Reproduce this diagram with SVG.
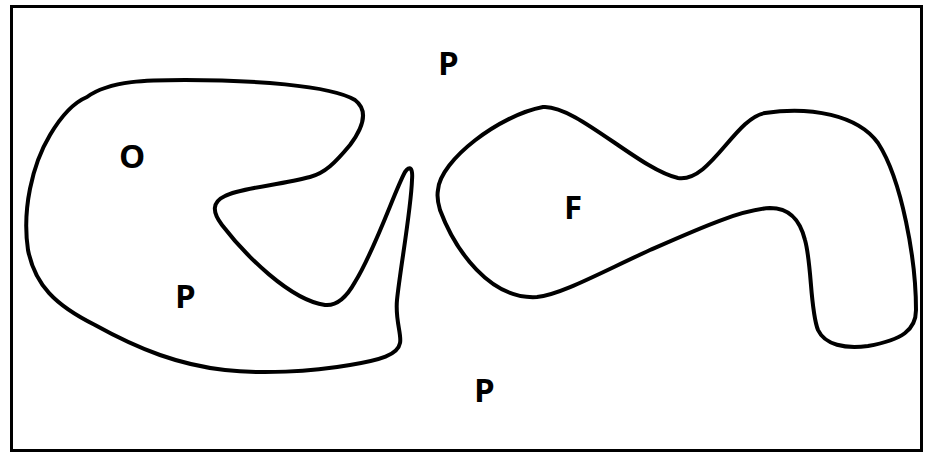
<svg xmlns="http://www.w3.org/2000/svg" width="928" height="453" viewBox="0 0 928 453">
<style>
.shape{fill:none;stroke:#000;stroke-width:4;stroke-linejoin:round}
.lbl{font-family:"Open Sans","Liberation Sans",sans-serif;font-weight:bold;font-size:33px;fill:#000}
</style>
<rect x="0" y="0" width="928" height="453" fill="#fff"/>
<rect x="11.5" y="6.5" width="910" height="444" fill="none" stroke="#000" stroke-width="3"/>
<g id="region-left">
<path class="shape" d="M 87,97 C 110,80 150,80 185,80 C 250,80 330,85 355,100 C 368,110 365,125 350,145 C 335,163 325,173 310,177 C 280,185 240,188 225,196 C 212,202 212,212 222,225 C 245,255 290,300 325,305 C 335,306 345,300 355,282 C 375,250 395,190 405,172 C 410,165 413,168 412,180 C 411,210 400,270 397,300 C 395,320 402,335 400,343 C 398,355 380,360 350,365 C 310,372 260,374 225,370 C 180,365 140,350 95,325 C 55,305 35,285 28,250 C 22,210 32,165 50,135 C 63,113 75,102 87,97 Z"/>
</g>
<g id="region-right">
<path class="shape" d="M 438,190 C 440,160 500,115 543,107 C 575,104 640,170 678,178 C 710,183 735,118 765,113 C 810,106 858,115 878,143 C 902,180 916,260 916,310 C 916,330 902,340 868,346 C 845,349 825,345 818,330 C 810,310 812,265 805,240 C 800,220 790,208 770,208 C 740,210 700,228 650,250 C 600,273 560,295 537,297 C 490,300 455,250 440,210 C 437,200 437,195 438,190 Z"/>
</g>
<g id="labels">
<text class="lbl" x="119" y="168">O</text>
<text class="lbl" x="175" y="308">P</text>
<text class="lbl" x="438" y="75">P</text>
<text class="lbl" x="564" y="219">F</text>
<text class="lbl" x="474" y="402">P</text>
</g>
</svg>
